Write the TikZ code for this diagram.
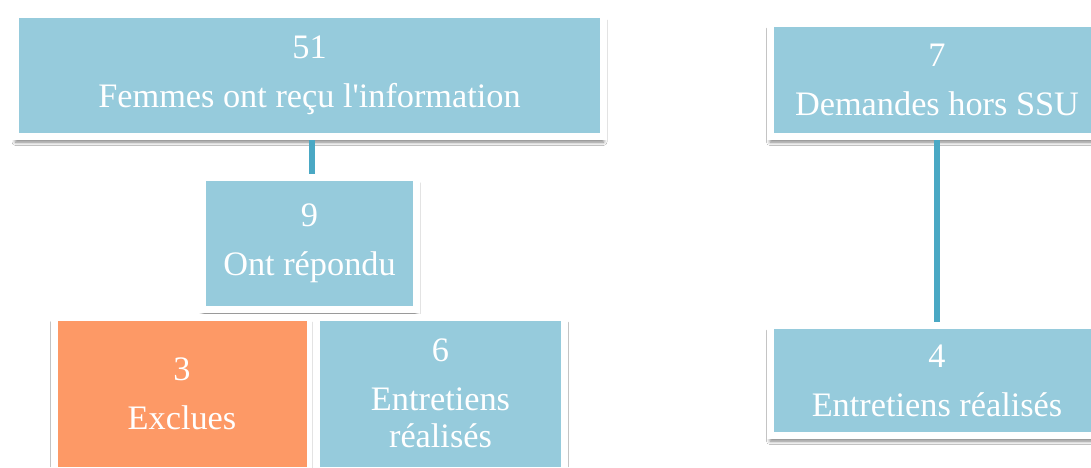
\documentclass[tikz,border=0pt]{standalone}
\usepackage{fontspec}
\setmainfont{Liberation Serif}
\usetikzlibrary{shadows.blur}
\definecolor{boxblue}{HTML}{96CBDC}
\definecolor{boxorange}{HTML}{FD9966}
\definecolor{linkblue}{HTML}{4AA8C4}
\tikzset{
  card/.style={rectangle, draw=white, line width=7pt, fill=boxblue, inner sep=0pt,
    text=white, align=center, font=\fontsize{34.3}{49}\selectfont,
    blur shadow={shadow xshift=0pt, shadow yshift=-5.5pt, shadow blur radius=3.5pt, shadow opacity=50}},
  orangecard/.style={card, fill=boxorange},
  link/.style={draw=linkblue, line width=6pt}
}
\begin{document}
\begin{tikzpicture}[x=1pt,y=-1pt]
\useasboundingbox (0,0) rectangle (1091,467);
\clip (0,0) rectangle (1091,467);
\fill[white] (0,0) rectangle (1091,467);
\node[card, minimum width=588pt, minimum height=122pt] (A) at (309.5,75.5) {51\\Femmes ont reçu l\textquotesingle information};
\node[card, minimum width=214pt, minimum height=132.5pt] (B) at (309.5,243.5) {9\\Ont répondu};
\node[orangecard, minimum width=256pt, minimum height=153pt] (C) at (182,393.5) {3\\Exclues};
\node[card, minimum width=248.5pt, minimum height=153pt] (D) at (440.5,393.5) {6\\Entretiens\\[-12pt]réalisés};
\node[card, minimum width=334pt, minimum height=113pt] (E) at (937,80) {7\\Demandes hors SSU};
\node[card, minimum width=334pt, minimum height=110pt] (F) at (937,380.5) {4\\Entretiens réalisés};
\draw[link] ([xshift=2.5pt]A.south) -- ([xshift=2.5pt]B.north);
\draw[link] (E.south) -- (F.north);
\end{tikzpicture}
\end{document}
